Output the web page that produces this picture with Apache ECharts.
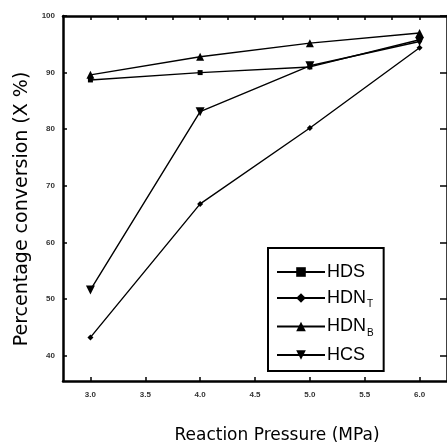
<!DOCTYPE html>
<html><head><meta charset="utf-8">
<script src="https://cdn.jsdelivr.net/npm/echarts@6/dist/echarts.min.js"></script>
<style>html,body{margin:0;padding:0;background:#fff}#c{width:447px;height:448px}</style>
</head><body><div id="c"></div>
<script>
var pressures = [3.0, 4.0, 5.0, 6.0];
var HDS   = [88.7, 90.0, 91.0, 95.8];
var HDN_T = [43.2, 66.8, 80.2, 94.4];
var HDN_B = [89.6, 92.8, 95.2, 97.0];
var HCS   = [51.6, 83.1, 91.2, 95.5];
var xTicks = [3.0, 3.5, 4.0, 4.5, 5.0, 5.5, 6.0];
var xTopTicks = [3.0, 3.25, 3.5, 3.75, 4.0, 4.25, 4.5, 4.75, 5.0, 5.25, 5.5, 5.75, 6.0];
var yTicks = [40, 50, 60, 70, 80, 90, 100];
var xTitle = 'Reaction Pressure (MPa)';
var yTitle = 'Percentage conversion (X %)';

function pairs(v){ return pressures.map(function(p,i){return [p, v[i]];}); }

var chart = echarts.init(document.getElementById('c'), null, {renderer:'canvas'});
var lineStyle = {color:'#000', width:1.4};
function ser(name, data, symbol, size){
  return {name:name, type:'line', data:pairs(data), symbol:symbol, symbolSize:size,
    lineStyle:lineStyle, itemStyle:{color:'#000'}, xAxisIndex:0, yAxisIndex:0, z:3};
}
chart.setOption({
  animation:false,
  grid:{left:63, top:16, right:-4, bottom:67},
  graphic:[
    {type:'text', x:277, y:436, style:{text:xTitle, fontSize:17, fill:'#000', fontFamily:'DejaVu Sans',
      align:'center', verticalAlign:'middle'}},
    {type:'text', x:22, y:209, rotation:Math.PI/2, style:{text:yTitle, fontSize:19, fill:'#000', fontFamily:'DejaVu Sans',
      align:'center', verticalAlign:'middle'}}
  ],
  xAxis:[{
    type:'value', min:2.75, max:6.25, position:'bottom',
    axisLine:{lineStyle:{color:'#000', width:2.5}},
    axisTick:{inside:true, length:4, customValues:xTicks, lineStyle:{color:'#000', width:1.5}},
    axisLabel:{customValues:xTicks, fontSize:8, color:'#333', margin:10, fontFamily:'Liberation Sans', fontWeight:'bold',
      formatter:function(v){return v.toFixed(1);}},
    splitLine:{show:false}
  },{
    type:'value', min:2.75, max:6.25, position:'top',
    axisLine:{lineStyle:{color:'#000', width:2.5}},
    axisTick:{inside:true, length:4, customValues:xTopTicks, lineStyle:{color:'#000', width:1.5}},
    axisLabel:{show:false}, splitLine:{show:false}
  }],
  yAxis:[{
    type:'value', min:35.5, max:100, position:'left',
    axisLine:{show:true, lineStyle:{color:'#000', width:2.5}},
    axisTick:{show:true, inside:true, length:4, customValues:yTicks, lineStyle:{color:'#000', width:1.5}},
    axisLabel:{customValues:yTicks, fontSize:8, color:'#333', margin:8, fontFamily:'Liberation Sans', fontWeight:'bold'},
    splitLine:{show:false}
  },{
    type:'value', min:35.5, max:100, position:'right',
    axisLine:{show:true, lineStyle:{color:'#000', width:2.5}},
    axisTick:{show:true, inside:true, length:7, customValues:yTicks, lineStyle:{color:'#000', width:1.5}},
    axisLabel:{show:false}, splitLine:{show:false}
  }],
  legend:{
    orient:'vertical', left:268, top:248, width:115,
    padding:[15, 10, 7, 8], itemGap:8, itemWidth:48, itemHeight:12,
    borderColor:'#000', borderWidth:2, backgroundColor:'#fff',
    data:['HDS','HDN_T','HDN_B','HCS'],
    formatter:function(n){
      if(n==='HDN_T') return '{m|HDN}{s|T}';
      if(n==='HDN_B') return '{m|HDN}{s|B}';
      return '{m|'+n+'}';
    },
    textStyle:{color:'#000', fontFamily:'Liberation Sans', padding:[0,0,0,-3],
      rich:{m:{fontSize:18, color:'#000', fontFamily:'Liberation Sans'},
            s:{fontSize:10, color:'#000', fontFamily:'Liberation Sans', padding:[13,0,0,1]}}}
  },
  series:[
    ser('HDS', HDS, 'rect', 5),
    ser('HDN_T', HDN_T, 'diamond', 6),
    ser('HDN_B', HDN_B, 'triangle', 8),
    ser('HCS', HCS, 'path://M0,0 L10,0 L5,10 Z', 9)
  ]
});
</script></body></html>
